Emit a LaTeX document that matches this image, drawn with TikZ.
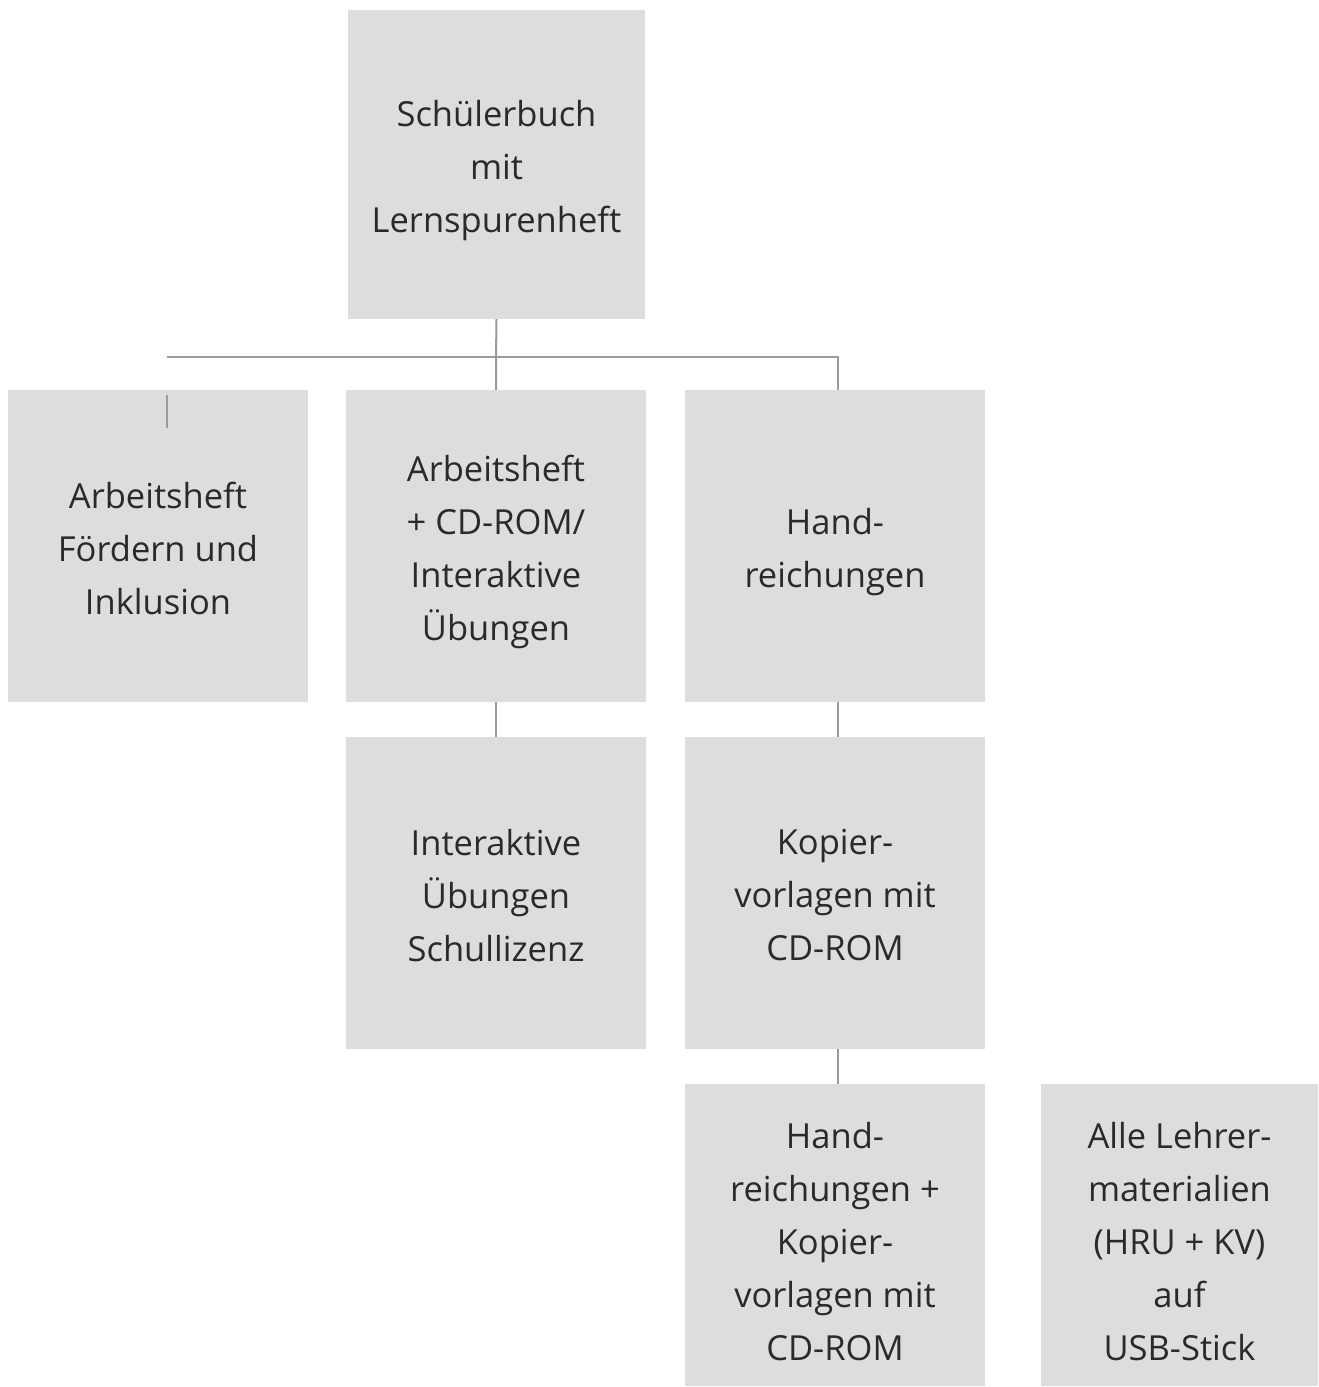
\documentclass[tikz,border=0pt]{standalone}
\usepackage{fontspec}
\setmainfont{Open Sans}
\definecolor{boxfill}{HTML}{DCDDDF}
\definecolor{linecol}{HTML}{9A9B9D}
\definecolor{txt}{HTML}{2B2A29}
\begin{document}
\begin{tikzpicture}[x=1pt,y=-1pt,
  bx/.style={fill=boxfill,draw=none,inner sep=0pt,minimum width=300pt,minimum height=312pt},
  lbl/.style={inner sep=0pt,align=center,text=txt,yshift=-10pt,
    font=\fontsize{34.5}{53}\selectfont,
    execute at begin node=\strut, execute at end node=\strut},
  conn/.style={draw=linecol,line width=2pt}]
\useasboundingbox (0,0) rectangle (1319,1387);
\node[bx,minimum width=297pt,minimum height=309pt] (top) at (496.5,164.5) {};
\node[bx] (a1) at (158,546) {};
\node[bx] (a2) at (496,546) {};
\node[bx] (a3) at (835,546) {};
\node[bx] (b2) at (496,893) {};
\node[bx] (b3) at (835,893) {};
\node[bx,minimum height=302pt] (c3) at (835,1235) {};
\node[bx,minimum width=277pt,minimum height=302pt] (c4) at (1179.5,1235) {};
\node[lbl] (topt) at (top.center) {Schülerbuch\\mit\\Lernspurenheft};
\node[lbl] (a1t) at (a1.center) {Arbeitsheft\\Fördern und\\Inklusion};
\node[lbl] (a2t) at (a2.center) {Arbeitsheft\\+ CD-ROM/\\Interaktive\\Übungen};
\node[lbl] (a3t) at (a3.center) {Hand-\\reichungen};
\node[lbl] (b2t) at (b2.center) {Interaktive\\Übungen\\Schullizenz};
\node[lbl] (b3t) at (b3.center) {Kopier-\\vorlagen mit\\CD-ROM};
\node[lbl,yshift=-4pt] (c3t) at (c3.center) {Hand-\\reichungen +\\Kopier-\\vorlagen mit\\CD-ROM};
\node[lbl,yshift=-4pt] (c4t) at (c4.center) {Alle Lehrer-\\materialien\\(HRU + KV)\\auf\\USB-Stick};
\coordinate (hl) at (167,357);
\coordinate (hr) at (838,357);
\coordinate (hm) at (496,357);
\coordinate (s1) at (167,395);
\coordinate (s2) at (167,428);
\draw[conn] (top.south) -- (hm) -- (hm |- a2.north);
\draw[conn] (hl) -- (hr) -- (hr |- a3.north);
\draw[conn] (s1) -- (s2);
\draw[conn] (a2.south) -- (b2.north);
\draw[conn] (a3.south -| hr) -- (b3.north -| hr);
\draw[conn] (b3.south -| hr) -- (c3.north -| hr);
\end{tikzpicture}
\end{document}
